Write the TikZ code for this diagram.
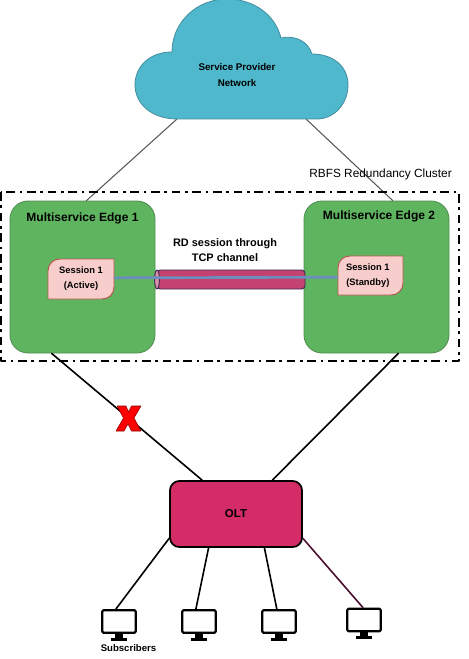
\documentclass[tikz,border=0pt]{standalone}
\usepackage{fontspec}
\setmainfont{Liberation Sans}
\definecolor{cloudfill}{HTML}{4FB8CC}
\definecolor{clouddraw}{HTML}{458E9E}
\definecolor{edgefill}{HTML}{5FB55F}
\definecolor{edgedraw}{HTML}{4F8A50}
\definecolor{sessfill}{HTML}{F8CECC}
\definecolor{sessdraw}{HTML}{B85450}
\definecolor{tubefill}{HTML}{C4426F}
\definecolor{tubedraw}{HTML}{3A2A50}
\definecolor{oltfill}{HTML}{D42C66}
\definecolor{linkblue}{HTML}{6C8EBF}
\definecolor{linkplum}{HTML}{4A1030}
\tikzset{
  edgebox/.style={draw=edgedraw, fill=edgefill, rounded corners=13.5pt, line width=0.6pt,
    minimum width=108.75pt, minimum height=114pt, inner sep=0pt},
  sessbox/.style={minimum width=48.75pt, minimum height=29.5pt, inner sep=0pt, align=center,
    font=\fontsize{7}{11.25}\selectfont\bfseries},
  oltbox/.style={draw=black, fill=oltfill, rounded corners=7pt, line width=1.3pt,
    minimum width=99pt, minimum height=49.5pt, inner sep=0pt, font=\fontsize{8.6}{10}\selectfont\bfseries},
  monitor/.style={draw=black, fill=white, rounded corners=1pt, line width=1.7pt,
    minimum width=25pt, minimum height=17pt, inner sep=0pt},
  uplink/.style={draw=black!65, line width=0.8pt},
  downlink/.style={draw=black, line width=1.2pt},
  labeltext/.style={align=center, inner sep=0pt}
}
\newcommand{\monitorstand}[1]{%
  \fill (#1.south) ++(-2.8pt,0) rectangle ++(5.6pt,-3pt);
  \fill (#1.south) ++(-6pt,-3pt) rectangle ++(12pt,-1.9pt);
}
\begin{document}
\begin{tikzpicture}[
  x=0.75pt,
  y=-0.75pt,
  line cap=round,
  line join=round
]
  \useasboundingbox (0,0) rectangle (468,659);

  % Nodes
  \node[edgebox] (edgeA) at (82.5,277) {};
  \node[edgebox] (edgeB) at (376.5,277) {};
  \node[oltbox] (olt) at (236,514) {OLT};
  \node[monitor] (monA) at (119,621.5) {};
  \node[monitor] (monB) at (199,621.5) {};
  \node[monitor] (monC) at (279,621.5) {};
  \node[monitor] (monD) at (364,620) {};

  % Cloud outline points
  \coordinate (cloudL) at (177,119);
  \coordinate (cloudR) at (317,119);

  % Links to the cloud
  \draw[uplink] (177,119) -- (edgeA.87);
  \draw[uplink] (306,119) -- (edgeB.78.5);

  % Cloud
  \draw[draw=clouddraw, fill=cloudfill, line width=0.6pt]
    (cloudL) .. controls (152,119) and (135,104) .. (135,85)
    .. controls (135,66) and (150,52) .. (172,52)
    .. controls (172,22) and (197,-1) .. (227,-1)
    .. controls (253,-1) and (275,14) .. (281,38)
    .. controls (295,35) and (308,41) .. (312,54)
    .. controls (334,54) and (348,67) .. (348,85)
    .. controls (348,104) and (334,119) .. (cloudR)
    -- cycle;
  \node[labeltext, font=\fontsize{7.3}{11.5}\selectfont\bfseries] (cloudtext) at (237,75)
    {Service Provider\\Network};

  % Links to the OLT
  \draw[downlink] (edgeA.248.8) -- (olt.135);
  \draw[downlink] (edgeB.-74.2) -- (olt.43.3);
  \draw[downlink] (olt.200) -- (monA.104.6);
  \draw[downlink] (olt.231.8) -- (monB.104.6);
  \draw[downlink] (olt.-50.7) -- (monC.100);
  \draw[downlink, draw=linkplum] (olt.-20) -- (monD.95);

  % Cluster frame
  \draw[line width=1.7pt, dash pattern=on 6.5pt off 3.5pt on 2pt off 3.5pt, line cap=butt]
    (1,192) rectangle (459,361);
  \node[labeltext, anchor=west, font=\fontsize{8.9}{11}\selectfont] (clustertext) at (309,174.5)
    {RBFS Redundancy Cluster};

  % Edge titles
  \node[labeltext, font=\fontsize{9}{11}\selectfont\bfseries] (titleA) at (82.5,218) {Multiservice Edge 1};
  \node[labeltext, font=\fontsize{9}{11}\selectfont\bfseries] (titleB) at (379,216) {Multiservice Edge 2};

  % Tube
  \draw[draw=tubedraw, fill=tubefill, line width=0.7pt, rounded corners=2.5pt]
    (157,270) -- (305,270) -- (305,289) -- (157,289) -- cycle;
  \draw[draw=tubedraw, fill=tubefill!60, line width=0.7pt] (157,279.5) ellipse (2.4 and 9.5);
  \node[labeltext, font=\fontsize{8.2}{11.2}\selectfont\bfseries] (tubetext) at (225,250)
    {RD session through\\TCP channel};

  % Sessions
  \draw[draw=sessdraw, fill=sessfill, line width=0.7pt]
    (48,299) -- (48,271) .. controls (48,264) and (53,259) .. (60,259) -- (114,259) -- (114,287)
    .. controls (114,294) and (109,299) .. (102,299) -- cycle;
  \draw[draw=sessdraw, fill=sessfill, line width=0.7pt]
    (338,295) -- (338,268) .. controls (338,261) and (343,256) .. (350,256) -- (403,256) -- (403,283)
    .. controls (403,290) and (398,295) .. (391,295) -- cycle;
  \node[sessbox] (sessA) at (81,279) {Session 1\\(Active)};
  \node[sessbox] (sessB) at (370.5,275.5) {Session 1\hspace*{4pt}\\(Standby)\hspace*{4pt}};

  % Session link
  \draw[draw=linkblue, line width=2pt, line cap=butt] (sessA.2.6) -- (sessB.183.5);

  % Broken link mark
  \draw[draw=red!55!black, fill=red, line width=0.4pt]
    (117,406) -- (126,406) -- (128.5,412) -- (131.5,406) -- (141,406) -- (134,418) -- (141,431)
    -- (131.5,431) -- (128,424) -- (124,431) -- (116,431) -- (123.5,418) -- cycle;

  % Monitor stands
  \monitorstand{monA}
  \monitorstand{monB}
  \monitorstand{monC}
  \monitorstand{monD}
  \node[labeltext, font=\fontsize{7.2}{9}\selectfont\bfseries] (subtext) at (128.5,648.5) {Subscribers};
\end{tikzpicture}
\end{document}
